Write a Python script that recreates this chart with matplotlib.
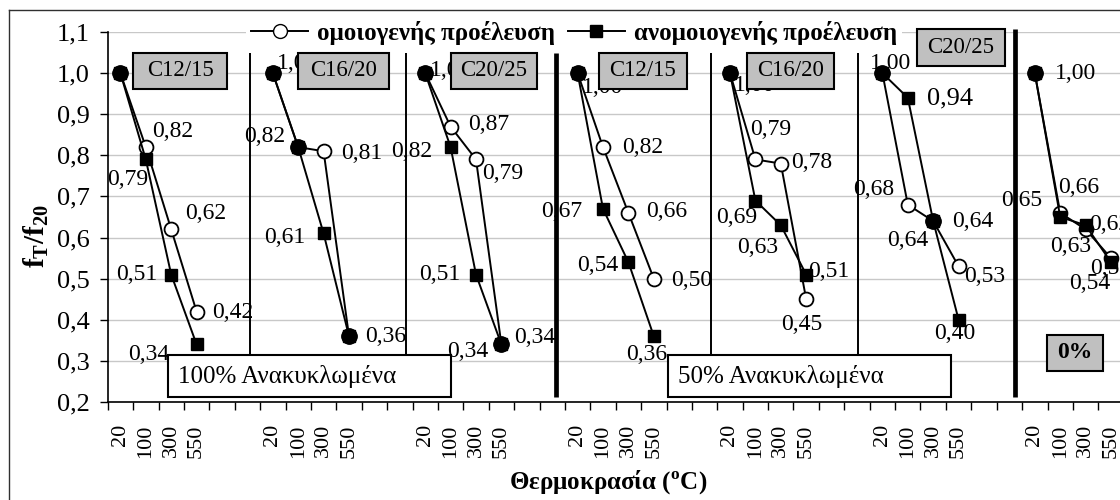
import matplotlib
matplotlib.use("Agg")
import matplotlib.pyplot as plt
import numpy as np
from matplotlib.lines import Line2D
from matplotlib.patches import Rectangle

W, H = 1120, 500

temps = ["20", "100", "300", "550"]
box_names = ["C12/15", "C16/20", "C20/25", "C12/15", "C16/20", "C20/25"]
series_names = ["ομοιογενής προέλευση", "ανομοιογενής προέλευση"]

# f_T / f_20 per group (100% recycled x3, 50% recycled x3, 0%)
homog = [
    [1.00, 0.82, 0.62, 0.42],
    [1.00, 0.82, 0.81, 0.36],
    [1.00, 0.87, 0.79, 0.34],
    [1.00, 0.82, 0.66, 0.50],
    [1.00, 0.79, 0.78, 0.45],
    [1.00, 0.68, 0.64, 0.53],
    [1.00, 0.66, 0.62, 0.55],
]
heterog = [
    [1.00, 0.79, 0.51, 0.34],
    [1.00, 0.82, 0.61, 0.36],
    [1.00, 0.82, 0.51, 0.34],
    [1.00, 0.67, 0.54, 0.36],
    [1.00, 0.69, 0.63, 0.51],
    [1.00, 0.94, 0.64, 0.40],
    [1.00, 0.65, 0.63, 0.54],
]

# label offsets in pixels (dx, dy down, ha); None = no label
homog_lbl = [
    [(12, 0, "left"), (6, -16, "left"), (14, -16, "left"), (16, 1, "left")],
    [(4, -10, "left"), None, (18, 2, "left"), (16, 0, "left")],
    [(5, -3, "left"), (18, -2, "left"), (6, 14, "left"), (13, -7, "left")],
    [(4, 14, "left"), (19, 0, "left"), (18, -1, "left"), (17, 2, "left")],
    [(4, 12, "left"), (-5, -30, "left"), (10, -1, "left"), (-4, 25, "center")],
    [(-12, -10, "left"), (-14, -15, "right"), (19, 0, "left"), (6, 10, "left")],
    [(20, 0, "left"), (-2, -25, "left"), (4, -5, "left"), (-21, 10, "left")],
]
heterog_lbl = [
    [None, (2, 20, "right"), (-14, 0, "right"), (-27, 10, "right")],
    [None, (-13, -11, "right"), (-18, 4, "right"), None],
    [None, (-18, 4, "right"), (-16, 0, "right"), (-13, 7, "right")],
    [None, (-21, 3, "right"), (-10, 3, "right"), (-7, 18, "center")],
    [None, (2, 17, "right"), (-3, 22, "right"), (2, -3, "left")],
    [None, (19, 1, "left"), (-5, 19, "right"), (-4, 14, "center")],
    [None, (-18, -17, "right"), (-15, 21, "center"), (-21, 21, "center")],
]

plt.rcParams["font.family"] = ["Liberation Serif", "DejaVu Serif"]
plt.rcParams["mathtext.fontset"] = "custom"
plt.rcParams["mathtext.rm"] = "Liberation Serif"
plt.rcParams["mathtext.bf"] = "Liberation Serif:bold"

fig = plt.figure(figsize=(W / 100, H / 100), dpi=100)
fig.patch.set_facecolor("white")

step = len(temps) + 2
n_cat = step * len(homog) - 2
cat_w = 25.4
ax = fig.add_axes([107.7 / W, 98 / H, cat_w * (n_cat + 2) / W, 370 / H])
ax.set_xlim(-0.5, n_cat + 1.5)
ax.set_ylim(0.2, 1.1)


def fmt(v):
    return f"{v:.2f}".replace(".", ",")


for g in range(len(homog)):
    xs = np.arange(len(temps)) + g * step
    ax.plot(xs, homog[g], "-o", color="black", mfc="white", mec="black",
            ms=10, mew=1.3, lw=1.4, zorder=3, clip_on=False)
    ax.plot(xs, heterog[g], "-s", color="black", mfc="black", mec="black",
            ms=8, lw=1.4, zorder=4, clip_on=False)
    for i, x in enumerate(xs):
        a, b = homog[g][i], heterog[g][i]
        if a == b:
            ax.plot(x, a, "o", mfc="black", mec="black", ms=11, zorder=5)
        for v, spec in ((a, homog_lbl[g][i]), (b, heterog_lbl[g][i])):
            if spec is None:
                continue
            dx, dy, ha = spec
            size = 19 if v == 0.94 else 17
            ax.annotate(fmt(v), (x, v), xytext=(dx, -dy), textcoords="offset pixels",
                        ha=ha, va="center", fontsize=size, zorder=6,
                        annotation_clip=False)

# group separators
seps = [(5.10, 1.05, 1.4), (11.24, 1.05, 1.4), (17.15, 1.05, 3.4),
        (23.25, 1.05, 1.4), (29.04, 1.05, 1.4), (35.22, 1.107, 3.4)]
for sx, top, w in seps:
    ax.plot([sx, sx], [0.212, top], color="black", lw=w, zorder=7,
            solid_capstyle="butt", clip_on=False)

ax.set_yticks(np.arange(0.2, 1.11, 0.1))
ax.set_yticklabels([f"{t:.1f}".replace(".", ",") for t in np.arange(0.2, 1.11, 0.1)],
                   fontsize=19)
ax.yaxis.grid(True, color="#c8c8c8", lw=1)
ax.set_axisbelow(True)
ax.tick_params(axis="y", length=6, width=1, pad=7, direction="out")

labels = []
for c in range(n_cat + 2):
    k = c % step
    labels.append(temps[k] if k < len(temps) else "")
ax.set_xticks(np.arange(n_cat + 2))
ax.set_xticklabels(labels, rotation=90, va="top", ha="center", fontsize=16)
ax.set_xticks(np.arange(-0.5, n_cat + 2, 1), minor=True)
ax.tick_params(axis="x", which="major", length=0, pad=16)
ax.tick_params(axis="x", which="minor", length=6, width=1, direction="out")

for s in ("top", "right"):
    ax.spines[s].set_visible(False)
for s in ("left", "bottom"):
    ax.spines[s].set_linewidth(1.2)

fig.text(36 / W, 1 - 236 / H, r"$\mathbf{f}_{\mathbf{T}}\mathbf{/f}_{\mathbf{20}}$",
         rotation=90, ha="center", va="center", fontsize=21)
fig.text(608 / W, 1 - 482 / H, r"Θερμοκρασία ($^{\mathbf{o}}$C)",
         ha="center", va="center", fontsize=18, fontweight="bold")


def box(x0, y0, x1, y1, text, face, bold=False, left=False, size=16.5):
    r = Rectangle((x0 / W, 1 - y1 / H), (x1 - x0) / W, (y1 - y0) / H,
                  transform=fig.transFigure, facecolor=face, edgecolor="black",
                  lw=1.5, zorder=10)
    fig.add_artist(r)
    tx = (x0 + 10) if left else (x0 + x1) / 2
    fig.text(tx / W, 1 - (y0 + y1) / 2 / H, text, ha="left" if left else "center",
             va="center", fontsize=size, fontweight="bold" if bold else "normal",
             zorder=11)


c_boxes = [(133, 53, 227, 89), (298, 53, 389, 89), (451, 53, 537, 89),
           (599, 53, 687, 89), (747, 53, 834, 89), (917, 29, 1005, 66)]
for (x0, y0, x1, y1), name in zip(c_boxes, box_names):
    box(x0, y0, x1, y1, name, "#c0c0c0")
box(168, 355, 451, 397, "100% Ανακυκλωμένα", "white", left=True, size=18)
box(668, 355, 951, 397, "50% Ανακυκλωμένα", "white", left=True, size=18)
box(1047, 335, 1103, 371, "0%", "#c0c0c0", bold=True, size=17)

handles = [
    Line2D([], [], color="black", marker="o", mfc="white", mec="black", ms=10, lw=1.4),
    Line2D([], [], color="black", marker="s", mfc="black", mec="black", ms=8, lw=1.4),
]
leg = fig.legend(handles, series_names, loc="center", bbox_to_anchor=(574 / W, 1 - 33 / H),
                 ncol=2, frameon=True, fancybox=False, facecolor="white", edgecolor="none",
                 framealpha=1, borderpad=0.2, handlelength=2.3, handletextpad=0.35,
                 columnspacing=0.5, prop={"family": "Liberation Serif", "weight": "bold",
                                          "size": 18})
leg.set_zorder(12)

# chart area border
fig.add_artist(Line2D([9 / W, 9 / W], [1 - 10 / H, 0], transform=fig.transFigure,
                      color="#303030", lw=1))
fig.add_artist(Line2D([9 / W, 1], [1 - 10 / H, 1 - 10 / H], transform=fig.transFigure,
                      color="#303030", lw=1))

fig.savefig("out.png", dpi=100, facecolor="white")
